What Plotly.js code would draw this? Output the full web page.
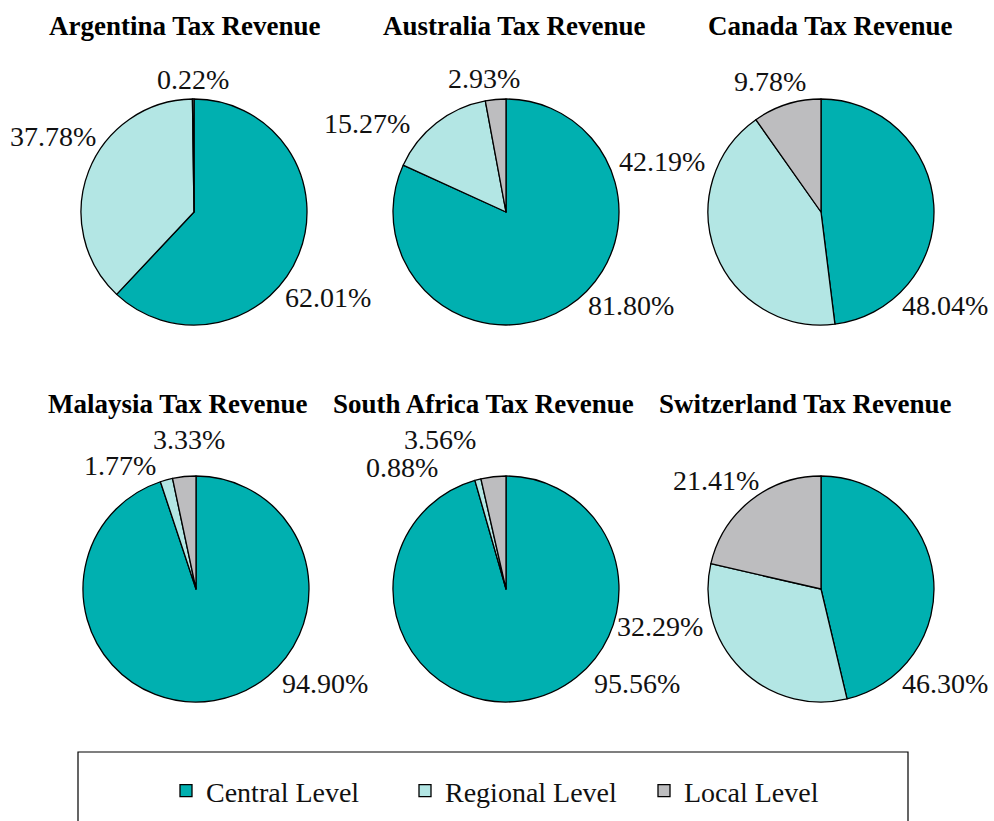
<!DOCTYPE html>
<html>
<head>
<meta charset="utf-8">
<script src="https://cdn.plot.ly/plotly-3.0.1.min.js"></script>
<style>html,body{margin:0;padding:0;background:#fff;}#chart{width:994px;height:821px;}</style>
</head>
<body>
<div id="chart"></div>
<script>
const levels = ["Central Level", "Regional Level", "Local Level"];
const countries = ["Argentina", "Australia", "Canada", "Malaysia", "South Africa", "Switzerland"];
const argentina = [62.01, 37.78, 0.22];
const australia = [81.80, 15.27, 2.93];
const canada = [48.04, 42.19, 9.78];
const malaysia = [94.90, 1.77, 3.33];
const southAfrica = [95.56, 0.88, 3.56];
const switzerland = [46.30, 32.29, 21.41];
const seriesValues = [argentina, australia, canada, malaysia, southAfrica, switzerland];

const colors = ["#00B0B0", "#B3E6E4", "#BDBDBF"];
const W = 994, H = 821, R = 113;
const centers = [[194,212],[506,212],[821,212],[196,589],[506,589],[821,589]];
const titlePos = [[185,26],[514,26],[830,26],[178,404],[483,404],[805,404]];
// label text-centre offsets (px) from each pie centre, per slice: central, regional, local
const labelOffsets = [
  [[134,86],[-141,-75],[-1,-132]],
  [[125,94],[-139,-88],[-22,-133]],
  [[124,93],[-159,-51],[-51,-131]],
  [[129,94],[-76,-124],[-7,-150]],
  [[131,94],[-104,-122],[-66,-150]],
  [[124,94],[-161,37],[-105,-109]]
];
const serif = "Liberation Serif, Times New Roman, serif";

const traces = countries.map((c, i) => {
  const [cx, cy] = centers[i];
  return {
    type: "pie",
    name: c,
    labels: levels,
    values: seriesValues[i],
    sort: false,
    direction: "clockwise",
    rotation: 0,
    marker: {colors: colors, line: {color: "#000", width: 1.3}},
    textposition: "none",
    textinfo: "none",
    hoverinfo: "label+value",
    showlegend: i === 0,
    domain: {
      x: [(cx - R) / W, (cx + R) / W],
      y: [1 - (cy + R) / H, 1 - (cy - R) / H]
    }
  };
});

const annotations = [];
countries.forEach((c, i) => {
  annotations.push({
    text: "<b>" + c + " Tax Revenue</b>",
    x: titlePos[i][0] / W, y: 1 - titlePos[i][1] / H,
    xref: "paper", yref: "paper", xanchor: "center", yanchor: "middle",
    showarrow: false,
    font: {family: serif, size: 27, color: "#000"}
  });
  seriesValues[i].forEach((v, j) => {
    const [cx, cy] = centers[i];
    const [dx, dy] = labelOffsets[i][j];
    annotations.push({
      text: v.toFixed(2) + "%",
      x: (cx + dx) / W, y: 1 - (cy + dy) / H,
      xref: "paper", yref: "paper", xanchor: "center", yanchor: "middle",
      showarrow: false,
      font: {family: serif, size: 28, color: "#111"}
    });
  });
});

const layout = {
  width: W, height: H,
  margin: {l: 0, r: 0, t: 0, b: 0},
  paper_bgcolor: "#fff",
  showlegend: true,
  legend: {
    orientation: "h",
    x: 166 / W, xanchor: "left",
    y: 1 - 791 / H, yanchor: "middle",
    entrywidth: 194, entrywidthmode: "pixels",
    font: {family: serif, size: 28, color: "#111"},
    bgcolor: "rgba(0,0,0,0)",
    borderwidth: 0
  },
  shapes: [{
    type: "rect", xref: "paper", yref: "paper",
    x0: 78 / W, x1: 908 / W, y0: -0.02, y1: 1 - 752 / H,
    line: {color: "#000", width: 1.2}, fillcolor: "rgba(0,0,0,0)", layer: "below"
  }],
  annotations: annotations
};

Plotly.newPlot("chart", traces, layout, {displayModeBar: false, staticPlot: true});
</script>
</body>
</html>
